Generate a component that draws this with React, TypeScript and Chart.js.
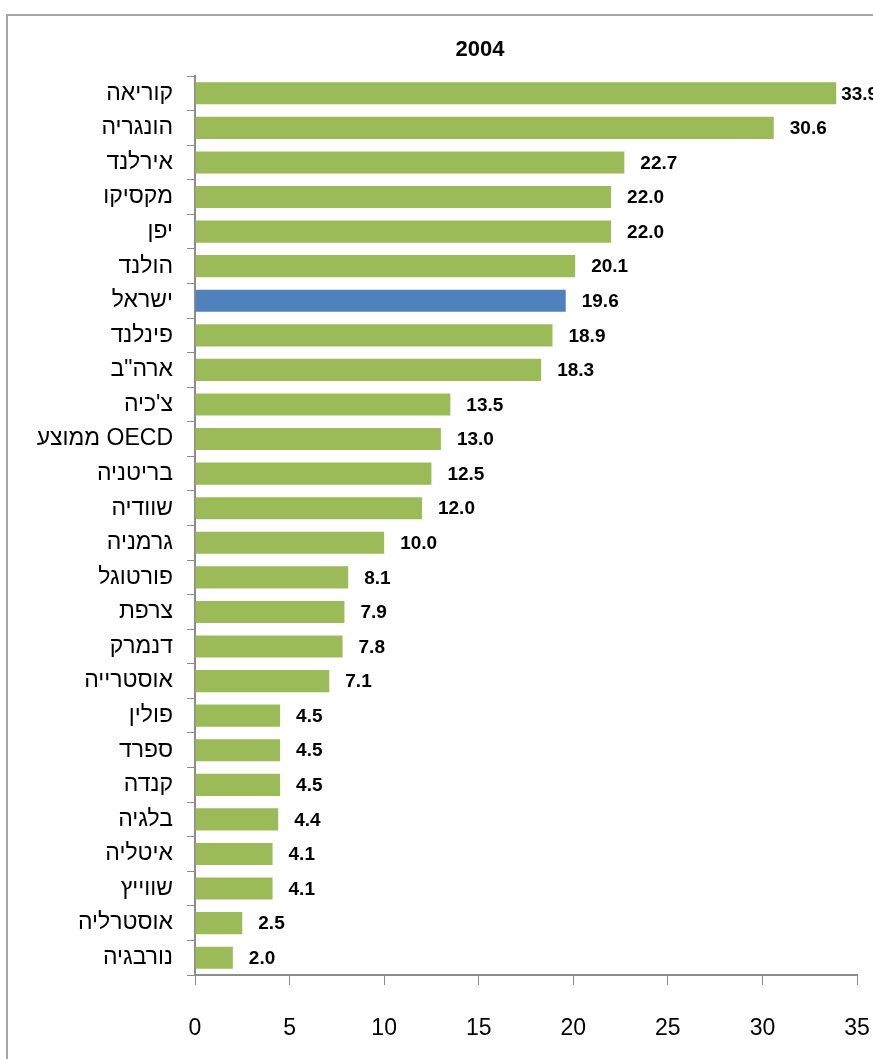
import React, { useEffect, useRef } from "react";
import { Chart, registerables } from "chart.js";

Chart.register(...registerables);

const categories = [
  "קוריאה", "הונגריה", "אירלנד", "מקסיקו", "יפן", "הולנד", "ישראל", "פינלנד",
  'ארה"ב', "צ'כיה", "ממוצע OECD", "בריטניה", "שוודיה", "גרמניה", "פורטוגל", "צרפת",
  "דנמרק", "אוסטרייה", "פולין", "ספרד", "קנדה", "בלגיה", "איטליה", "שווייץ",
  "אוסטרליה", "נורבגיה",
];
const values = [
  33.9, 30.6, 22.7, 22.0, 22.0, 20.1, 19.6, 18.9, 18.3, 13.5, 13.0, 12.5, 12.0,
  10.0, 8.1, 7.9, 7.8, 7.1, 4.5, 4.5, 4.5, 4.4, 4.1, 4.1, 2.5, 2.0,
];
const highlight = "ישראל";
const title = "2004";
const xMin = 0;
const xMax = 35;
const xStep = 5;

const GREEN = "#9BBB59";
const BLUE = "#4F81BD";
const AXIS = "#8c8c8c";
const FONT = "'Liberation Sans Narrow', 'Liberation Sans', 'DejaVu Sans', sans-serif";

const framePlugin = {
  id: "frame",
  beforeDraw(chart: any) {
    const ctx = chart.ctx;
    ctx.save();
    ctx.strokeStyle = "#a6a6a6";
    ctx.lineWidth = 2;
    ctx.strokeRect(7, 15, 1200, 1200);
    ctx.fillStyle = "#000";
    ctx.font = `bold 22px ${FONT}`;
    ctx.textAlign = "center";
    ctx.textBaseline = "middle";
    ctx.fillText(title, 480, 50);
    ctx.restore();
  },
};

const valueLabels = {
  id: "valueLabels",
  afterDatasetsDraw(chart: any) {
    const ctx = chart.ctx;
    const meta = chart.getDatasetMeta(0);
    ctx.save();
    ctx.fillStyle = "#000";
    ctx.font = `bold 19px 'Liberation Sans', 'DejaVu Sans', sans-serif`;
    ctx.textAlign = "left";
    ctx.textBaseline = "middle";
    meta.data.forEach((bar: any, i: number) => {
      const txt = values[i].toFixed(1);
      let x = bar.x + 16;
      if (x + ctx.measureText(txt).width > chart.width + 8) x = bar.x + 5;
      ctx.fillText(txt, x, bar.y + 1);
    });
    ctx.restore();
  },
};

export default function App() {
  const ref = useRef<HTMLCanvasElement>(null);
  useEffect(() => {
    if (!ref.current) return;
    const chart = new Chart(ref.current, {
      type: "bar",
      data: {
        labels: categories,
        datasets: [
          {
            data: values,
            backgroundColor: categories.map((c) => (c === highlight ? BLUE : GREEN)),
            barPercentage: 0.64,
            categoryPercentage: 1,
          },
        ],
      },
      options: {
        indexAxis: "y",
        animation: false,
        responsive: false,
        maintainAspectRatio: false,
        layout: { padding: { top: 76, right: 16, left: 0, bottom: 0 } },
        plugins: {
          legend: { display: false },
          tooltip: { enabled: false },
          title: { display: false },
        },
        scales: {
          x: {
            min: xMin,
            max: xMax,
            ticks: {
              stepSize: xStep,
              color: "#000",
              font: { family: FONT, size: 23 },
              padding: 30,
              maxRotation: 0,
            },
            grid: {
              drawOnChartArea: false,
              drawTicks: true,
              tickLength: 10,
              color: AXIS,
            },
            border: { display: true, color: AXIS, width: 2 },
            afterFit(scale: any) {
              scale.height = 84;
              scale.paddingLeft = 0;
              scale.paddingRight = 0;
            },
          },
          y: {
            ticks: {
              color: "#000",
              font: { family: FONT, size: 23 },
              padding: 14,
              autoSkip: false,
            },
            grid: {
              drawOnChartArea: false,
              drawTicks: true,
              tickLength: 8,
              color: AXIS,
              offset: true,
            },
            border: { display: true, color: AXIS, width: 2 },
            afterFit(scale: any) {
              scale.width = 195;
              scale.paddingTop = 0;
              scale.paddingBottom = 0;
            },
          },
        },
      },
      plugins: [framePlugin, valueLabels],
    } as any);
    return () => chart.destroy();
  }, []);
  return (
    <div style={{ position: "absolute", left: 0, top: 0, width: 873, height: 1059, background: "#fff" }}>
      <canvas ref={ref} width={873} height={1059} style={{ width: 873, height: 1059, display: "block" }} />
    </div>
  );
}
